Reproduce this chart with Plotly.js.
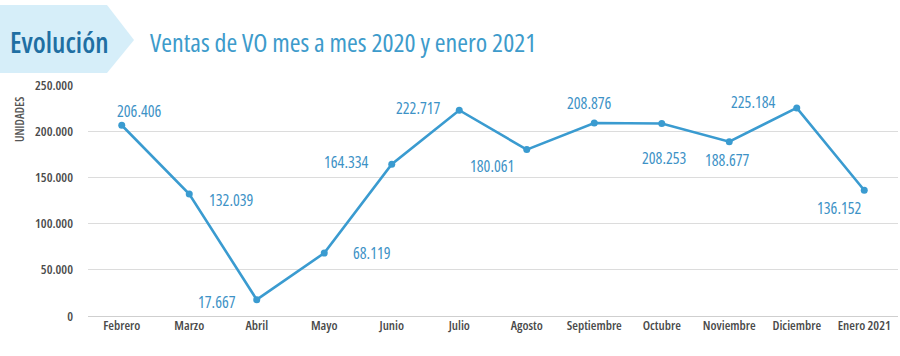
<!DOCTYPE html>
<html>
<head>
<meta charset="utf-8">
<script src="https://cdn.plot.ly/plotly-3.0.1.min.js"></script>
<style>
html,body{margin:0;padding:0;background:#fff;}
#chart{width:900px;height:356px;}
text, tspan{font-stretch:condensed !important;}
</style>
</head>
<body>
<div id="chart"></div>
<script>
const months = ["Febrero","Marzo","Abril","Mayo","Junio","Julio","Agosto","Septiembre","Octubre","Noviembre","Diciembre","Enero 2021"];
const ventas = [206406,132039,17667,68119,164334,222717,180061,208876,208253,188677,225184,136152];
const yTicks = [0,50000,100000,150000,200000,250000];

// label offsets (px) relative to each point
const labelDx = [18,42,-40,48,-45,-41,-35,-5,3,-2,-43,-25];
const labelDy = [14,-6,-2,0,2,2,-16,20,-34,-18,6,-18];

const FONT = "'Open Sans','Roboto Condensed',sans-serif";
const fmt = v => String(v).replace(/\B(?=(\d{3})+(?!\d))/g, ".");

const annotations = months.map((m,i)=>({
  x: m, y: ventas[i], xref:'x', yref:'y', text: fmt(ventas[i]), showarrow:false,
  xshift: labelDx[i], yshift: labelDy[i],
  font:{family:FONT, size:16, color:'#3d92c6'}
}));
annotations.push({
  xref:'paper', yref:'paper', x:(19-88)/810, y:(316-120)/231, xanchor:'center', yanchor:'middle',
  text:'UNIDADES', textangle:-90, showarrow:false,
  font:{family:FONT, size:12, color:'#555', weight:600}
});
annotations.push({
  xref:'paper', yref:'paper', xanchor:'left', yanchor:'middle',
  x:(8-88)/810, y:(316-42)/231, text:'Evolución', showarrow:false,
  font:{family:FONT, size:28, color:'#1f6fa3', weight:600}
});
annotations.push({
  xref:'paper', yref:'paper', xanchor:'left', yanchor:'middle',
  x:(148-88)/810, y:(316-42)/231, text:'Ventas de VO mes a mes 2020 y enero 2021', showarrow:false,
  font:{family:FONT, size:26, color:'#3d9bcb'}
});

const shapes = [{
  type:'path', xref:'paper', yref:'paper', layer:'below',
  path: (function(){
    const px = x => (x-88)/810, py = y => (316-y)/231;
    return `M ${px(0)} ${py(5)} L ${px(107)} ${py(5)} L ${px(134)} ${py(40)} L ${px(107)} ${py(73)} L ${px(0)} ${py(73)} Z`;
  })(),
  fillcolor:'#d6eef9', line:{width:0}
}];

const trace = {
  x: months, y: ventas, type:'scatter', mode:'lines+markers',
  line:{color:'#3a9bd0', width:2.6},
  marker:{color:'#3a9bd0', size:7},
  hoverinfo:'skip', cliponaxis:false
};

const layout = {
  width:900, height:356,
  margin:{l:88, r:2, t:85, b:40},
  paper_bgcolor:'#fff', plot_bgcolor:'#fff',
  separators:',.',
  showlegend:false,
  font:{family:FONT, color:'#555'},
  xaxis:{type:'category', range:[-0.5,11.5], showgrid:false, zeroline:false, showline:false,
         ticks:'', tickangle:0, tickfont:{family:FONT, size:13, color:'#4a4a4a', weight:600}, fixedrange:true},
  yaxis:{range:[0,250000], tickvals:yTicks, tickformat:',d', showgrid:true, gridcolor:'#dcdcdc', gridwidth:1,
         zeroline:true, zerolinecolor:'#cfcfcf', zerolinewidth:1, showline:false, ticks:'', ticklabelstandoff:14,
         tickfont:{family:FONT, size:13, color:'#4a4a4a', weight:600}, fixedrange:true},
  annotations: annotations,
  shapes: shapes
};

Plotly.newPlot('chart', [trace], layout, {displayModeBar:false, staticPlot:true});
</script>
</body>
</html>
